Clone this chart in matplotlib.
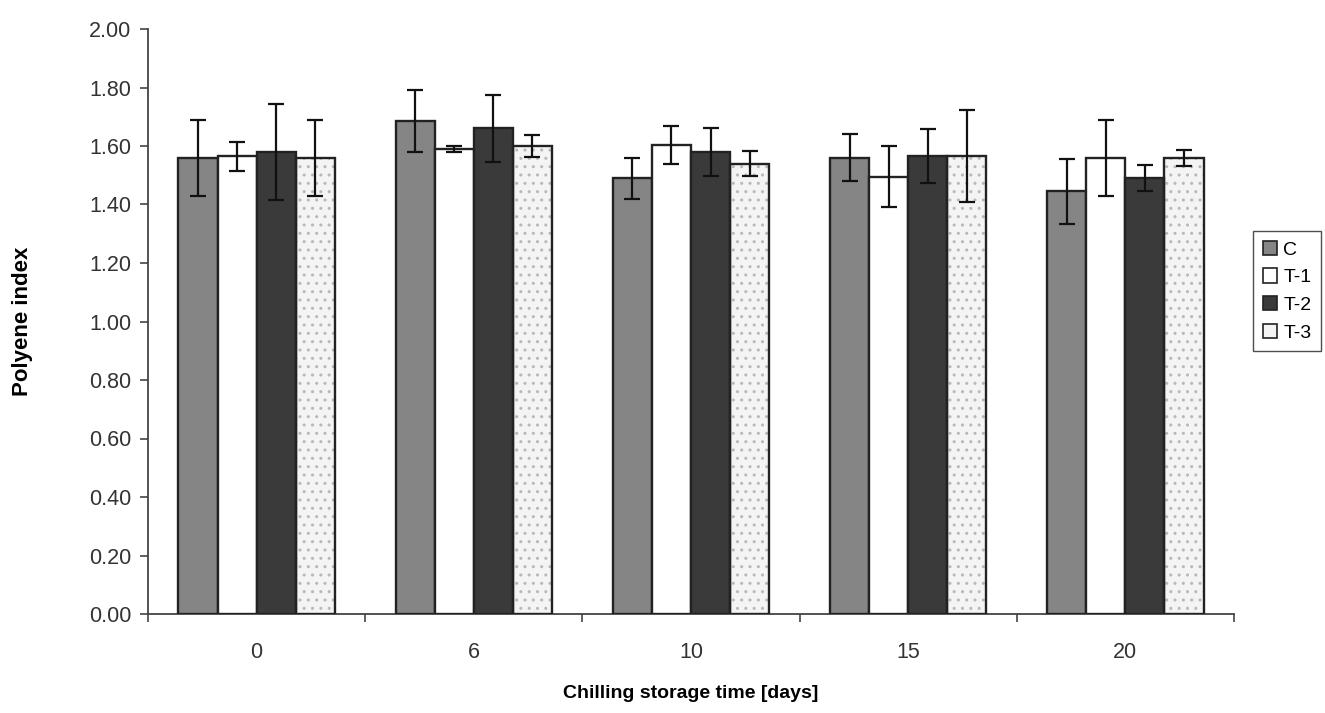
import numpy as np
import matplotlib.pyplot as plt
from matplotlib.patches import Patch

days = ['0', '6', '10', '15', '20']
groups = ['C', 'T-1', 'T-2', 'T-3']
C = [1.56, 1.685, 1.49, 1.56, 1.445]
T1 = [1.565, 1.59, 1.605, 1.495, 1.56]
T2 = [1.58, 1.66, 1.58, 1.565, 1.49]
T3 = [1.56, 1.60, 1.54, 1.565, 1.56]
C_err = [0.13, 0.105, 0.07, 0.08, 0.11]
T1_err = [0.05, 0.01, 0.065, 0.105, 0.13]
T2_err = [0.165, 0.113, 0.083, 0.093, 0.044]
T3_err = [0.13, 0.037, 0.043, 0.157, 0.027]

plt.rcParams['font.family'] = ['Liberation Sans', 'DejaVu Sans']

fig = plt.figure(figsize=(13.25, 7.13), dpi=100)
ax = fig.add_axes([148/1325, 1-614/713, (1234-148)/1325, (614-29)/713])

x = np.arange(len(days))
w = 0.18
vals = [C, T1, T2, T3]
errs = [C_err, T1_err, T2_err, T3_err]
faces = ['#858585', '#ffffff', '#3a3a3a', '#f4f4f4']
handles = []
for i in range(4):
    pos = x + (i - 1.5) * w
    if i == 3:
        ax.bar(pos, vals[i], w, color='#f4f4f4', edgecolor='#b8b8b8', hatch='..', linewidth=0, zorder=2)
        ax.bar(pos, vals[i], w, fill=False, edgecolor='#222222', linewidth=1.7, zorder=3)
    else:
        ax.bar(pos, vals[i], w, color=faces[i], edgecolor='#222222', linewidth=1.7, zorder=3)
    ax.errorbar(pos, vals[i], yerr=errs[i], fmt='none', ecolor='#111111', elinewidth=1.6,
                capsize=6, capthick=1.6, zorder=4)
    handles.append(Patch(facecolor=faces[i], edgecolor='#222222', linewidth=1.2, label=groups[i]))

ax.set_xlim(-0.5, 4.5)
ax.set_ylim(0, 2.0)
ax.set_yticks(np.arange(0, 2.01, 0.2))
ax.set_yticklabels(['%.2f' % v for v in np.arange(0, 2.01, 0.2)])
ax.set_xticks(x)
ax.set_xticklabels(days)
ax.set_xticks(np.arange(-0.5, 4.6, 1), minor=True)
ax.tick_params(axis='x', which='major', length=0, pad=20, labelsize=15.5)
ax.tick_params(axis='x', which='minor', length=6, width=1.2, direction='out', color='#444444')
ax.tick_params(axis='y', length=6, width=1.2, direction='out', labelsize=15.5, color='#444444', pad=6)
ax.tick_params(axis='both', labelcolor='#333333')
for s in ['top', 'right']:
    ax.spines[s].set_visible(False)
for s in ['left', 'bottom']:
    ax.spines[s].set_linewidth(1.3)
    ax.spines[s].set_color('#444444')

ax.set_ylabel('Polyene index', fontsize=16, fontweight='bold')
ax.yaxis.set_label_coords(-0.106, 0.5)
ax.set_xlabel('Chilling storage time [days]', fontsize=14, fontweight='bold')
ax.xaxis.set_label_coords(0.5, -0.122)

leg = fig.legend(handles=handles, loc='upper left', bbox_to_anchor=(1253/1325, 1-231/713),
                 frameon=True, fancybox=False, edgecolor='#222222', fontsize=14,
                 handlelength=0.75, handleheight=0.75, handletextpad=0.3, labelspacing=0.5,
                 borderpad=0.5, borderaxespad=0)
leg.get_frame().set_linewidth(1.0)

fig.savefig('out.png', dpi=100)
